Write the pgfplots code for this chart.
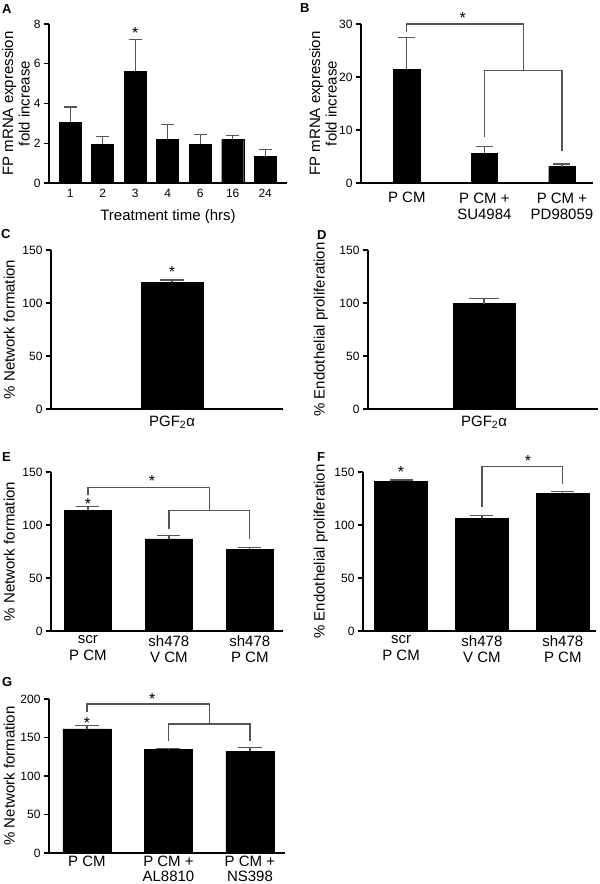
\documentclass[border=0pt]{standalone}
\usepackage{pgfplots}
\pgfplotsset{compat=1.18}
\usepackage{fontspec}
\setmainfont{Liberation Sans}
\definecolor{eg}{RGB}{85,85,85}
\newcommand\tk{\fontsize{12}{14}\selectfont}
\newcommand\lb{\fontsize{15}{16.5}\selectfont}
\tikzset{br/.style={eg, line width=1.2pt}}
\pgfplotsset{
  panel/.style={
    scale only axis, anchor=south west, clip=false,
    axis lines=left, axis line style={-, line width=1.3pt, black},
    ymin=0, ybar,
    tick align=outside, major tick length=5pt,
    ytick style={line width=1.3pt, black},
    xtick style={draw=none},
    xtick=data,
    yticklabel style={font=\tk},
    xticklabel style={font=\lb, align=center, yshift=2pt},
    ylabel style={font=\lb, align=center, at={(axis description cs:0,0.5)}, anchor=south, inner sep=0pt},
    xlabel style={font=\lb},
    /pgf/number format/assume math mode=true,
  },
  bars/.style 2 args={
    fill=black, draw=black, bar width=#1,
    error bars/.cd, y dir=plus, y explicit,
    error bar style={line width=1.2pt, eg},
    error mark options={rotate=90, mark size=#2, line width=1.2pt, eg},
  },
}
\newcommand\st{\fontsize{16}{17}\selectfont *}
\begin{document}
\begin{tikzpicture}[x=1pt,y=1pt]
\useasboundingbox (0,0) rectangle (600,884);
% ---------------- A
\begin{axis}[panel, at={(49pt,701pt)}, width=238pt, height=159pt,
  ymax=8, ytick={0,2,4,6,8}, xmin=-0.65, xmax=6.67,
  xticklabels={1,2,3,4,6,16,24}, xticklabel style={font=\tk},
  ylabel={FP mRNA expression\\fold increase}, ylabel style={yshift=19pt},
  xlabel={Treatment time (hrs)}, xlabel style={yshift=-5pt}]
\addplot[bars={22pt}{6.5pt}] coordinates {
 (0,3.05) +- (0,0.77)
 (1,1.94) +- (0,0.40)
 (2,5.61) +- (0,1.59)
 (3,2.21) +- (0,0.72)
 (4,1.94) +- (0,0.49)
 (5,2.18) +- (0,0.21)
 (6,1.34) +- (0,0.35)};
\node[yshift=-3pt] at (axis cs:2,7.68) {\st};
\end{axis}
% ---------------- B
\begin{axis}[panel, at={(361pt,701pt)}, width=232pt, height=159pt,
  ymax=30, ytick={0,10,20,30}, xmin=-0.59, xmax=2.4,
  xticklabels={P CM, P CM +\\SU4984, P CM +\\PD98059},
  xticklabel style={yshift=-3pt},
  ylabel={FP mRNA expression\\fold increase}, ylabel style={yshift=24pt}]
\addplot[bars={26.5pt}{8.5pt}] coordinates {
 (0,21.5) +- (0,5.9)
 (1,5.6) +- (0,1.3)
 (2,3.1) +- (0,0.5)};
\draw[br] (axis cs:0,28.4) |- (axis cs:1.5,30) -- (axis cs:1.5,21.2);
\draw[br] (axis cs:1,8.7) |- (axis cs:2,21.2) -- (axis cs:2,6.0);
\node[yshift=-3pt] at (axis cs:0.72,31.7) {\st};
\end{axis}
% ---------------- C
\begin{axis}[panel, at={(51pt,475pt)}, width=232pt, height=159pt,
  ymax=150, ytick={0,50,100,150}, xmin=-1.21, xmax=1.11,
  xticklabels={PGF\textsubscript{2}α},
  ylabel={\% Network formation}, ylabel style={yshift=36pt}]
\addplot[bars={62pt}{11.5pt}] coordinates {(0,119.5) +- (0,2.2)};
\node[yshift=-3pt] at (axis cs:0,132) {\st};
\end{axis}
% ---------------- D
\begin{axis}[panel, at={(368pt,475pt)}, width=230pt, height=159pt,
  ymax=150, ytick={0,50,100,150}, xmin=-1.16, xmax=1.14,
  xticklabels={PGF\textsubscript{2}α},
  ylabel={\% Endothelial proliferation}, ylabel style={yshift=40pt}]
\addplot[bars={62pt}{15pt}] coordinates {(0,99.5) +- (0,4.4)};
\end{axis}
% ---------------- E
\begin{axis}[panel, at={(51pt,253pt)}, width=232pt, height=159pt,
  ymax=150, ytick={0,50,100,150}, xmin=-0.457, xmax=2.41,
  xticklabels={scr\\P CM, sh478\\V CM, sh478\\P CM},
  xticklabel style={yshift=2pt},
  ylabel={\% Network formation}, ylabel style={yshift=36pt}]
\addplot[bars={47pt}{11.5pt}] coordinates {
 (0,114.1) +- (0,3.1)
 (1,87.0) +- (0,3.2)
 (2,77.2) +- (0,1.9)};
\node[yshift=-3pt] at (axis cs:0,122.3) {\st};
\draw[br] (axis cs:0,128.6) |- (axis cs:1.5,135.5) -- (axis cs:1.5,113.5);
\draw[br] (axis cs:1,96.1) |- (axis cs:2,113.5) -- (axis cs:2,87);
\node[yshift=-3pt] at (axis cs:0.79,144.3) {\st};
\end{axis}
% ---------------- F
\begin{axis}[panel, at={(363pt,253pt)}, width=233pt, height=159pt,
  ymax=150, ytick={0,50,100,150}, xmin=-0.47, xmax=2.41,
  xticklabels={scr\\P CM, sh478\\V CM, sh478\\P CM},
  xticklabel style={yshift=2pt},
  ylabel={\% Endothelial proliferation}, ylabel style={yshift=35pt}]
\addplot[bars={53pt}{11.5pt}] coordinates {
 (0,141.5) +- (0,1.0)
 (1,106.2) +- (0,2.5)
 (2,129.8) +- (0,1.6)};
\node[yshift=-3pt] at (axis cs:0,152.8) {\st};
\draw[br] (axis cs:1,116.6) |- (axis cs:2,155.4) -- (axis cs:2,139);
\node[yshift=-3pt] at (axis cs:1.57,163.3) {\st};
\end{axis}
% ---------------- G
\begin{axis}[panel, at={(49pt,31pt)}, width=236pt, height=154pt,
  ymax=200, ytick={0,50,100,150,200}, xmin=-0.466, xmax=2.43,
  xticklabels={P CM, P CM +\\AL8810, P CM +\\NS398},
  xticklabel style={yshift=4pt, font=\fontsize{15}{15}\selectfont},
  ylabel={\% Network formation}, ylabel style={yshift=34pt}]
\addplot[bars={48pt}{12pt}] coordinates {
 (0,161.1) +- (0,4.8)
 (1,134.3) +- (0,1.3)
 (2,132.2) +- (0,5.2)};
\node[yshift=-3pt] at (axis cs:0,173.2) {\st};
\draw[br] (axis cs:0,182.7) |- (axis cs:1.5,193.5) -- (axis cs:1.5,167.6);
\draw[br] (axis cs:1,145.1) |- (axis cs:2,167.6) -- (axis cs:2,145.1);
\node[yshift=-3pt] at (axis cs:0.8,203.5) {\st};
\end{axis}
% panel letters
\begin{scope}[every node/.style={anchor=north west, inner sep=0pt, font=\fontsize{13}{15}\selectfont\bfseries}]
\node at (2,880) {A};
\node at (300,881) {B};
\node at (1,655) {C};
\node at (317,654) {D};
\node at (2,432) {E};
\node at (317,432) {F};
\node at (2,207) {G};
\end{scope}
\end{tikzpicture}
\end{document}
